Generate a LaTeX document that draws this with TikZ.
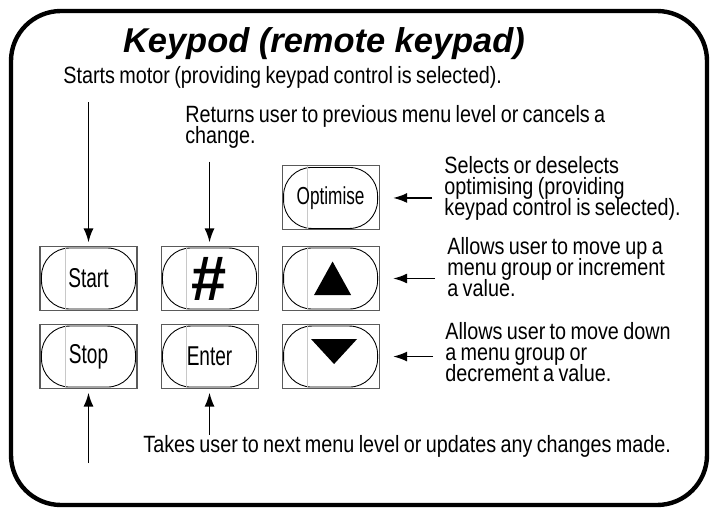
\documentclass[tikz,border=0pt]{standalone}
\usepackage{fontspec}
\setmainfont{Liberation Sans}
\newfontfamily\bodyfont{Liberation Sans}[FakeStretch=0.84,WordSpace=0.8]
\newfontfamily\keyfont{Liberation Sans}[FakeStretch=0.7]
\usetikzlibrary{arrows.meta,positioning}
\definecolor{kBorder}{RGB}{90,90,90}
\definecolor{kSplit}{RGB}{200,200,200}
\tikzset{
  keybox/.style={rectangle,draw=kBorder,line width=0.6pt,inner sep=0pt,
                 minimum width=1.94cm,minimum height=1.28cm,
                 font=\keyfont\fontsize{15.5}{15.5}\selectfont,
                 path picture={
                   \draw[black,line width=0.5pt,rounded corners=16pt]
                     ([shift={(0.03cm,0.03cm)}]path picture bounding box.south west) rectangle
                     ([shift={(-0.03cm,-0.03cm)}]path picture bounding box.north east);
                   \draw[kSplit,line width=0.4pt]
                     ([xshift=0.5cm]path picture bounding box.south west) --
                     ([xshift=0.5cm]path picture bounding box.north west);
                 }},
  desc/.style={inner sep=0pt,align=left,
               font=\bodyfont\fontsize{13.4}{12}\selectfont},
  arr/.style={-{Latex[length=0.28cm,width=0.2cm]},line width=1pt,shorten >=2pt},
  frame/.style={rounded corners=1cm,line width=2.5pt}
}

\begin{document}
\setlength{\lineskiplimit}{-10pt}
\begin{tikzpicture}[x=0.02cm,y=-0.02cm]
  \useasboundingbox (0,0) rectangle (715,510);

  % Outer frame
  \draw[frame] (11,11) rectangle (707,505);

  % Title
  \node[font=\fontsize{19.6}{20}\selectfont\bfseries\itshape,anchor=base] (title)
      at (324,52) {Keypod (remote keypad)};

  % Keys
  \node[keybox] (kstart) at (88.5,278.5) {Start};
  \node[keybox,right=0.46cm of kstart] (khash)
      {\normalfont\fontsize{36}{36}\selectfont\bfseries\#};
  \node[keybox,right=0.46cm of khash] (kup) {};
  \node[keybox,above=0.31cm of kup,font=\keyfont\fontsize{14}{14}\selectfont] (kopt) {Optimise};
  \node[keybox,below=0.26cm of kstart] (kstop) {Stop};
  \node[keybox,right=0.46cm of kstop] (kenter) {Enter};
  \node[keybox,right=0.46cm of kenter] (kdown) {};

  % Up / down marks
  \fill ([shift={(0.04cm,0.34cm)}]kup.center) -- ([shift={(-0.33cm,-0.33cm)}]kup.center)
        -- ([shift={(0.41cm,-0.33cm)}]kup.center) -- cycle;
  \fill ([shift={(-0.39cm,0.35cm)}]kdown.center) -- ([shift={(0.53cm,0.35cm)}]kdown.center)
        -- ([shift={(0.07cm,-0.15cm)}]kdown.center) -- cycle;

  % Descriptions
  \node[desc,anchor=base west] (tstart) at (63,83)
      {Starts motor (providing keypad control is selected).};
  \node[desc,anchor=north west] (treturn) at (185,105)
      {Returns user to previous menu level or cancels a\\change.};
  \node[desc,anchor=north west] (topt) at (444,156)
      {Selects or deselects\\optimising (providing\\keypad control is selected).};
  \node[desc,anchor=north west] (tup) at (447,237)
      {Allows user to move up a\\menu group or increment\\a value.};
  \node[desc,anchor=north west] (tdown) at (445,322)
      {Allows user to move down\\a menu group or\\decrement a value.};
  \node[desc,anchor=base west] (ttake) at (143,452)
      {Takes user to next menu level or updates any changes made.};
  \coordinate (cstop) at (88.5,463);

  % Arrows
  \draw[arr] (tstart.south -| kstart.north) ++(0,14) -- (kstart.north);
  \draw[arr] (treturn.south -| khash.north) ++(0,13) -- (khash.north);
  \foreach \t/\k in {topt/kopt,tup/kup,tdown/kdown}
    \draw[arr] (\k.east -| \t.west) ++(-12,0) -- ([xshift=0.2cm]\k.east);
  \draw[arr] (ttake.north -| kenter.south) -- (kenter.south);
  \draw[arr] (cstop) -- (kstop.south);

\end{tikzpicture}
\end{document}
